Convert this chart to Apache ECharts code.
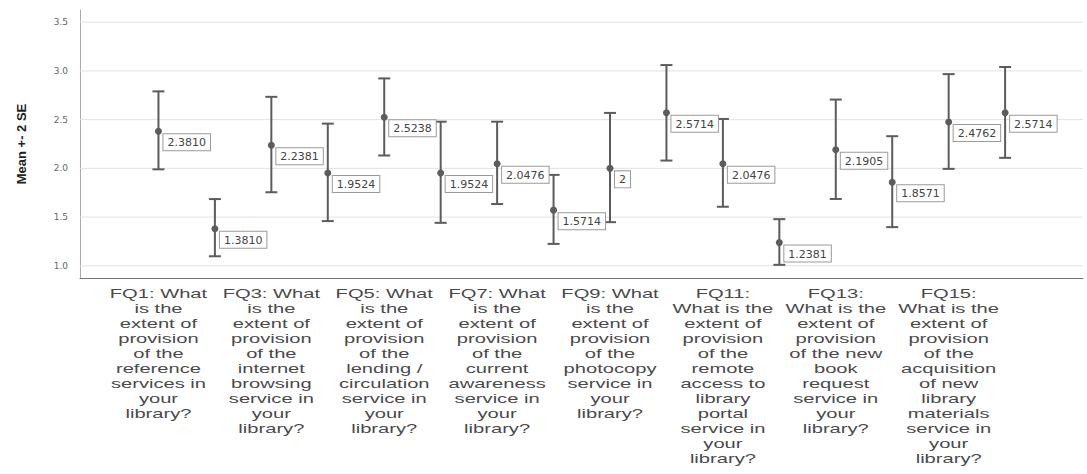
<!DOCTYPE html>
<html>
<head>
<meta charset="utf-8">
<script src="https://cdn.jsdelivr.net/npm/echarts@6/dist/echarts.min.js"></script>
<style>
    html, body { margin: 0; padding: 0; background: #fff; }
    #chart { width: 1087px; height: 474px; }
</style>
</head>
<body>
<div id="chart"></div>
<script>
// mean +- 2 SE per question
var means = [2.3810, 1.3810, 2.2381, 1.9524, 2.5238, 1.9524, 2.0476, 1.5714,
             2, 2.5714, 2.0476, 1.2381, 2.1905, 1.8571, 2.4762, 2.5714];
var upper = [2.79, 1.685, 2.734, 2.459, 2.923, 2.479, 2.479, 1.933,
             2.569, 3.06, 2.507, 1.479, 2.706, 2.33, 2.967, 3.04];
var lower = [1.99, 1.098, 1.755, 1.459, 2.132, 1.441, 1.634, 1.225,
             1.448, 2.08, 1.606, 1.01, 1.686, 1.397, 1.995, 2.108];
var yTicks = [1.0, 1.5, 2.0, 2.5, 3.0, 3.5];

// only every other category gets a label (like the original)
var xLabels = [
    'FQ1: What\nis the\nextent of\nprovision\nof the\nreference\nservices in\nyour\nlibrary?', '',
    'FQ3: What\nis the\nextent of\nprovision\nof the\ninternet\nbrowsing\nservice in\nyour\nlibrary?', '',
    'FQ5: What\nis the\nextent of\nprovision\nof the\nlending /\ncirculation\nservice in\nyour\nlibrary?', '',
    'FQ7: What\nis the\nextent of\nprovision\nof the\ncurrent\nawareness\nservice in\nyour\nlibrary?', '',
    'FQ9: What\nis the\nextent of\nprovision\nof the\nphotocopy\nservice in\nyour\nlibrary?', '',
    'FQ11:\nWhat is the\nextent of\nprovision\nof the\nremote\naccess to\nlibrary\nportal\nservice in\nyour\nlibrary?', '',
    'FQ13:\nWhat is the\nextent of\nprovision\nof the new\nbook\nrequest\nservice in\nyour\nlibrary?', '',
    'FQ15:\nWhat is the\nextent of\nprovision\nof the\nacquisition\nof new\nlibrary\nmaterials\nservice in\nyour\nlibrary?', ''
];

var Y_MIN = 0.875, Y_MAX = 3.625;
var barColor = '#5c5c5c';

var fmtMean = function (v) {
    return Number.isInteger(v) ? String(v) : v.toFixed(4);
};

var renderGrid = function (params, api) {
    var cs = params.coordSys;
    var y = api.coord([0, api.value(1)])[1];
    return {
        type: 'line',
        shape: {x1: cs.x, y1: y, x2: cs.x + cs.width, y2: y},
        style: {stroke: '#e2e2e2', lineWidth: 1}
    };
};

var renderBar = function (params, api) {
    var x = api.value(0);
    var mid = api.coord([x, api.value(1)]);
    var top = api.coord([x, api.value(2)]);
    var bot = api.coord([x, api.value(3)]);
    var cap = 6;
    var st = {stroke: barColor, lineWidth: 2};
    return {
        type: 'group',
        children: [
            {type: 'line', shape: {x1: top[0], y1: top[1], x2: bot[0], y2: bot[1]}, style: st},
            {type: 'line', shape: {x1: top[0] - cap, y1: top[1], x2: top[0] + cap, y2: top[1]}, style: st},
            {type: 'line', shape: {x1: bot[0] - cap, y1: bot[1], x2: bot[0] + cap, y2: bot[1]}, style: st},
            {type: 'circle', shape: {cx: mid[0], cy: mid[1], r: 3.5}, style: {fill: barColor}}
        ]
    };
};

var renderValueLabel = function (params, api) {
    var p = api.coord([api.value(0), api.value(1)]);
    return {
        type: 'text',
        x: p[0] + 5,
        y: p[1] + 3,
        style: {
            text: fmtMean(api.value(1)),
            fontSize: 11,
            fontFamily: 'DejaVu Sans',
            fill: '#444',
            align: 'left',
            verticalAlign: 'top',
            lineHeight: 11,
            backgroundColor: '#fff',
            borderColor: '#9a9a9a',
            borderWidth: 1,
            padding: [3, 4, 2, 4]
        }
    };
};

var renderXLabel = function (params, api) {
    var p = api.coord([api.value(0), Y_MIN]);
    return {
        type: 'text',
        x: p[0],
        y: p[1] + 8,
        scaleX: 1.55,
        style: {
            text: xLabels[params.dataIndex],
            fontSize: 13,
            lineHeight: 15,
            fontFamily: 'Liberation Sans',
            fill: '#4a4a4a',
            align: 'center',
            verticalAlign: 'top'
        }
    };
};

var chart = echarts.init(document.getElementById('chart'), null, {renderer: 'svg'});

var option = {
    animation: false,
    backgroundColor: '#fff',
    grid: {left: 80, right: 4, top: 10, bottom: 196},
    xAxis: {
        type: 'value',
        min: -1.39,
        max: 16.38,
        axisLine: {show: true, onZero: false, lineStyle: {color: '#777', width: 1}},
        axisTick: {show: false},
        axisLabel: {show: false},
        splitLine: {show: false}
    },
    yAxis: {
        type: 'value',
        min: Y_MIN,
        max: Y_MAX,
        interval: 0.125,
        name: 'Mean +- 2 SE',
        nameLocation: 'middle',
        nameGap: 52,
        nameTextStyle: {fontSize: 13, fontWeight: 'bold', color: '#222', fontFamily: 'Liberation Sans'},
        axisLine: {show: true, onZero: false, lineStyle: {color: '#aaa', width: 1}},
        axisTick: {show: false},
        splitLine: {show: false},
        axisLabel: {
            margin: 12,
            fontSize: 9,
            fontFamily: 'DejaVu Sans',
            color: '#666',
            formatter: function (v) {
                var twice = v * 2;
                return (v >= 1 && Math.abs(twice - Math.round(twice)) < 1e-6) ? v.toFixed(1) : '';
            }
        }
    },
    series: [
        {
            type: 'custom',
            renderItem: renderGrid,
            silent: true,
            z: 1,
            data: yTicks.map(function (v) { return [0, v]; })
        },
        {
            type: 'custom',
            renderItem: renderBar,
            z: 2,
            data: means.map(function (m, i) { return [i, m, upper[i], lower[i]]; })
        },
        {
            type: 'custom',
            renderItem: renderValueLabel,
            z: 3,
            data: means.map(function (m, i) { return [i, m]; })
        },
        {
            type: 'custom',
            renderItem: renderXLabel,
            clip: false,
            z: 3,
            data: xLabels.map(function (t, i) { return [i, Y_MIN]; })
        }
    ]
};

chart.setOption(option);
</script>
</body>
</html>
